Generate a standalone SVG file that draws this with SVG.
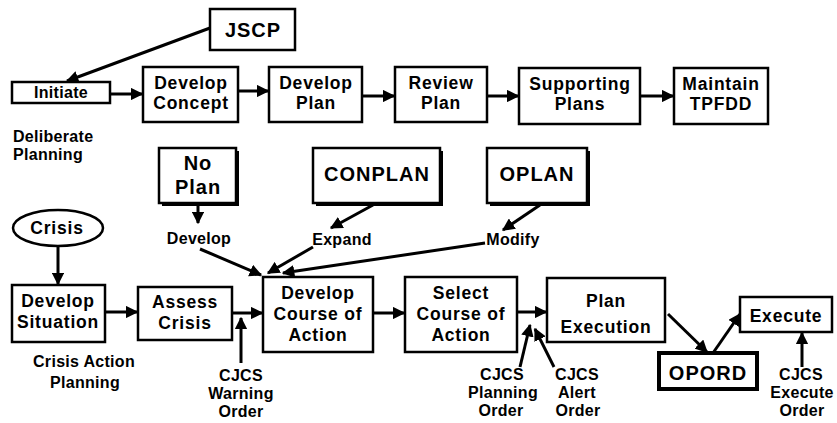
<svg xmlns="http://www.w3.org/2000/svg" width="837" height="423" viewBox="0 0 837 423">
<defs>
<marker id="ah" viewBox="0 0 10 10" refX="9" refY="5" markerWidth="4.2" markerHeight="4.2" orient="auto" markerUnits="strokeWidth">
<path d="M0,0 L10,5 L0,10 Z" fill="#000"/>
</marker>
<style>
rect.b{fill:#fff;stroke:#000;stroke-width:2.5}
rect.sh{fill:#000}
ellipse.b{fill:#fff;stroke:#000;stroke-width:2.5}
text{font-family:"Liberation Sans",Arial,sans-serif;font-weight:bold;fill:#000;text-anchor:middle}
.t{font-size:17.5px;letter-spacing:0.8px}
.tb{font-size:20px;letter-spacing:1px}
.s{font-size:16px;letter-spacing:0.3px}
.l{text-anchor:start}
#connectors line,#connectors path{stroke:#000;stroke-width:3;fill:none;marker-end:url(#ah)}
</style>
</defs>
<rect width="837" height="423" fill="#fff"/>

<g id="connectors">
<line x1="210" y1="28" x2="67" y2="81"/>
<line x1="110" y1="94" x2="142" y2="94"/>
<line x1="238" y1="91" x2="268" y2="91"/>
<line x1="362" y1="96" x2="394" y2="96"/>
<line x1="487" y1="96" x2="518" y2="96"/>
<line x1="640" y1="96" x2="673" y2="96"/>
<line x1="198" y1="204" x2="198" y2="223"/>
<line x1="373" y1="205" x2="331" y2="228"/>
<line x1="540" y1="205" x2="503" y2="230"/>
<line x1="200" y1="249" x2="261" y2="275"/>
<line x1="313" y1="247" x2="268" y2="273"/>
<line x1="485" y1="243" x2="283" y2="273"/>
<line x1="58" y1="246" x2="58" y2="284"/>
<line x1="105" y1="312" x2="137" y2="312"/>
<line x1="232" y1="313" x2="262" y2="313"/>
<line x1="373" y1="313" x2="404" y2="313"/>
<line x1="517" y1="312" x2="546" y2="312"/>
<line x1="668" y1="314" x2="707" y2="352"/>
<line x1="713" y1="353" x2="740" y2="314"/>
<line x1="241" y1="363" x2="241" y2="318"/>
<line x1="520" y1="367" x2="530" y2="325"/>
<line x1="554" y1="367" x2="535" y2="329"/>
<line x1="802" y1="367" x2="802" y2="333"/>
</g>

<g id="jscp"><rect class="b" x="210" y="9" width="85" height="41"/><text class="tb" x="253" y="37">JSCP</text></g>
<g id="initiate"><rect class="b" x="12" y="82" width="98" height="21"/><text class="s" x="61" y="98">Initiate</text></g>
<g id="develop-concept"><rect class="b" x="143" y="67" width="95" height="55"/><text class="t" x="191" y="89">Develop</text><text class="t" x="191" y="109">Concept</text></g>
<g id="develop-plan"><rect class="b" x="269" y="67" width="93" height="55"/><text class="t" x="316" y="89">Develop</text><text class="t" x="316" y="109">Plan</text></g>
<g id="review-plan"><rect class="b" x="395" y="67" width="92" height="55"/><text class="t" x="441" y="89">Review</text><text class="t" x="441" y="109">Plan</text></g>
<g id="supporting-plans"><rect class="b" x="519" y="68" width="121" height="56"/><text class="t" x="580" y="90">Supporting</text><text class="t" x="580" y="110">Plans</text></g>
<g id="maintain-tpfdd"><rect class="b" x="674" y="68" width="94" height="56"/><text class="t" x="721" y="90">Maintain</text><text class="t" x="721" y="110">TPFDD</text></g>
<g id="deliberate-label"><text class="s l" x="13" y="142">Deliberate</text><text class="s l" x="13" y="160">Planning</text></g>

<g id="no-plan"><rect class="sh" x="162" y="151" width="77" height="55"/><rect class="b" x="159" y="148" width="77" height="55"/><text class="tb" x="198" y="170">No</text><text class="tb" x="198" y="194">Plan</text></g>
<g id="conplan"><rect class="sh" x="316" y="151" width="127" height="55"/><rect class="b" x="313" y="148" width="127" height="55"/><text class="tb" x="377" y="181">CONPLAN</text></g>
<g id="oplan"><rect class="sh" x="490" y="151" width="100" height="55"/><rect class="b" x="487" y="148" width="100" height="55"/><text class="tb" x="537" y="181">OPLAN</text></g>
<g id="develop-label"><text class="s" x="199" y="244">Develop</text></g>
<g id="expand-label"><text class="s" x="342" y="245">Expand</text></g>
<g id="modify-label"><text class="s" x="513" y="245">Modify</text></g>

<g id="crisis"><ellipse class="b" cx="58" cy="228" rx="45" ry="18"/><text class="t" x="57" y="234">Crisis</text></g>
<g id="develop-situation"><rect class="b" x="12" y="285" width="93" height="57"/><text class="t" x="58" y="307">Develop</text><text class="t" x="58" y="328">Situation</text></g>
<g id="assess-crisis"><rect class="b" x="138" y="287" width="94" height="53"/><text class="t" x="185" y="308">Assess</text><text class="t" x="185" y="329">Crisis</text></g>
<g id="develop-coa"><rect class="b" x="263" y="277" width="110" height="75"/><text class="t" x="318" y="299">Develop</text><text class="t" x="318" y="320">Course of</text><text class="t" x="318" y="341">Action</text></g>
<g id="select-coa"><rect class="b" x="405" y="277" width="112" height="75"/><text class="t" x="461" y="299">Select</text><text class="t" x="461" y="320">Course of</text><text class="t" x="461" y="341">Action</text></g>
<g id="plan-execution"><rect class="b" x="547" y="278" width="118" height="64"/><text class="t" x="606" y="307">Plan</text><text class="t" x="606" y="333">Execution</text></g>
<g id="execute"><rect class="b" x="740" y="297" width="92" height="35"/><text class="t" x="786" y="322">Execute</text></g>
<g id="opord"><rect class="b" x="659" y="353" width="98" height="36" style="stroke-width:4"/><text class="tb" x="708" y="380">OPORD</text></g>
<g id="crisis-action-label"><text class="s" x="84" y="367">Crisis Action</text><text class="s" x="85" y="388">Planning</text></g>
<g id="cjcs-warning"><text class="s" x="241" y="381">CJCS</text><text class="s" x="241" y="399">Warning</text><text class="s" x="241" y="417">Order</text></g>
<g id="cjcs-planning"><text class="s" x="502" y="380">CJCS</text><text class="s" x="503" y="398">Planning</text><text class="s" x="501" y="416">Order</text></g>
<g id="cjcs-alert"><text class="s" x="577" y="380">CJCS</text><text class="s" x="577" y="398">Alert</text><text class="s" x="578" y="416">Order</text></g>
<g id="cjcs-execute"><text class="s" x="801" y="380">CJCS</text><text class="s" x="802" y="398">Execute</text><text class="s" x="802" y="416">Order</text></g>
</svg>
